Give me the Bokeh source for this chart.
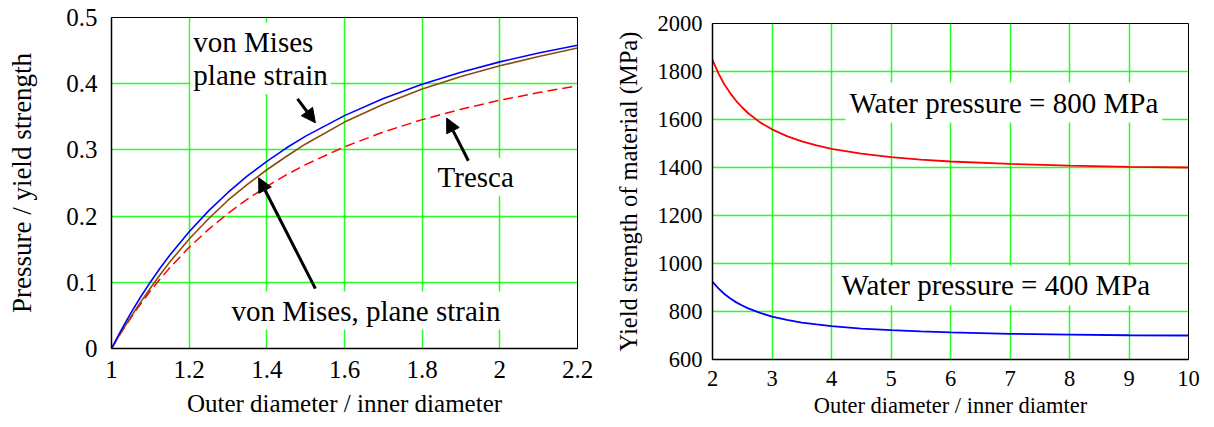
from bokeh.plotting import figure
from bokeh.layouts import row, column
from bokeh.models import Label, Arrow, NormalHead, FixedTicker, NumeralTickFormatter, Range1d
from bokeh.embed import file_html
from bokeh.resources import INLINE

# ---- left chart data ----
ratio_left = [1.0, 1.025, 1.05, 1.075, 1.1, 1.125, 1.15, 1.2, 1.25, 1.3, 1.35, 1.4, 1.45, 1.5,
              1.6, 1.7, 1.8, 1.9, 2.0, 2.1, 2.2]
von_mises_blue = [0, 0.0278, 0.0537, 0.0778, 0.1002, 0.1212, 0.1408, 0.1764, 0.2079, 0.2357,
                  0.2606, 0.2828, 0.3028, 0.3208, 0.3518, 0.3776, 0.3992, 0.4174, 0.4330,
                  0.4464, 0.4580]
von_mises_plane_strain = [0, 0.0250, 0.0480, 0.0700, 0.0910, 0.1115, 0.1305, 0.1655, 0.1960,
                          0.2240, 0.2480, 0.2700, 0.2900, 0.3090, 0.3420, 0.3690, 0.3920,
                          0.4110, 0.4270, 0.4410, 0.4540]
tresca = [0, 0.0241, 0.0465, 0.0673, 0.0868, 0.1049, 0.1220, 0.1528, 0.1800, 0.2041, 0.2257,
          0.2449, 0.2622, 0.2778, 0.3047, 0.3270, 0.3457, 0.3615, 0.3750, 0.3866, 0.3967]
left_xticks = [1.0, 1.2, 1.4, 1.6, 1.8, 2.0, 2.2]
left_yticks = [0, 0.1, 0.2, 0.3, 0.4, 0.5]

# ---- right chart data ----
ratio_right = [2, 2.1, 2.2, 2.3, 2.4, 2.5, 2.6, 2.8, 3, 3.25, 3.5, 3.75, 4, 4.5, 5, 5.5,
               6, 7, 8, 9, 10]
yield_800 = [1848, 1792, 1746, 1709, 1677, 1650, 1626, 1588, 1559, 1531, 1509, 1492, 1478,
             1458, 1443, 1433, 1425, 1415, 1408, 1403, 1400]
yield_400 = [924, 896, 873, 854, 838, 825, 813, 794, 779, 765, 754, 746, 739, 729, 722, 717,
             713, 707, 704, 701, 700]
right_xticks = [2, 3, 4, 5, 6, 7, 8, 9, 10]
right_yticks = [600, 800, 1000, 1200, 1400, 1600, 1800, 2000]

FONT = "Liberation Serif"
GRID = "#00ff00"


def style(p, tick_size, label_size):
    p.outline_line_color = "black"
    p.outline_line_width = 1
    p.background_fill_color = "white"
    p.border_fill_color = "white"
    for ax in (p.xaxis[0], p.yaxis[0]):
        ax.major_tick_out = 0
        ax.major_tick_in = 0
        ax.minor_tick_out = 0
        ax.minor_tick_in = 0
        ax.axis_line_color = "black"
        ax.axis_line_width = 1.5
        ax.major_label_text_font = FONT
        ax.major_label_text_font_size = tick_size
        ax.major_label_text_color = "black"
        ax.axis_label_text_font = FONT
        ax.axis_label_text_font_size = label_size
        ax.axis_label_text_font_style = "normal"
        ax.axis_label_text_color = "black"
    for g in (p.xgrid[0], p.ygrid[0]):
        g.grid_line_color = GRID
        g.grid_line_width = 1.5
        g.grid_line_alpha = 0.85


# ---------------- left figure ----------------
p1 = figure(width=600, height=427, output_backend="svg", toolbar_location=None,
            x_range=Range1d(1.0, 2.2), y_range=Range1d(0, 0.5),
            min_border_left=111, min_border_right=23, min_border_top=17, min_border_bottom=79,
            x_axis_label="Outer diameter / inner diameter",
            y_axis_label="Pressure / yield strength")
style(p1, "25px", "25px")
p1.yaxis[0].axis_label_text_font_size = "27px"
p1.xaxis[0].ticker = FixedTicker(ticks=left_xticks)
p1.yaxis[0].ticker = FixedTicker(ticks=left_yticks)
p1.xgrid[0].ticker = FixedTicker(ticks=left_xticks)
p1.ygrid[0].ticker = FixedTicker(ticks=left_yticks)
p1.xaxis[0].formatter = NumeralTickFormatter(format="0.[0]")
p1.yaxis[0].formatter = NumeralTickFormatter(format="0.[0]")
p1.xaxis[0].major_label_standoff = 12
p1.xaxis[0].axis_label_standoff = 9
p1.yaxis[0].major_label_standoff = 14
p1.yaxis[0].axis_label_standoff = 26

p1.line(ratio_left, tresca, line_color="#ff0000", line_width=1.5, line_dash="10 5")
p1.line(ratio_left, von_mises_plane_strain, line_color="#8b4a10", line_width=1.6)
p1.line(ratio_left, von_mises_blue, line_color="#0000ff", line_width=1.6)

lab_kw = dict(text_font=FONT, text_font_size="29px", text_color="black",
              background_fill_color="white", text_align="left", text_baseline="top")
p1.add_layout(Label(x=1.203, y=0.492, text="von Mises", padding=3, **lab_kw))
p1.add_layout(Label(x=1.203, y=0.442, text="plane strain", padding=3, **lab_kw))
p1.add_layout(Label(x=1.832, y=0.288, text="Tresca", padding=3, **lab_kw))
p1.add_layout(Label(x=1.301, y=0.086, text="von Mises, plane strain", padding=3, **lab_kw))

head = dict(size=14, fill_color="black", line_color="black")
p1.add_layout(Arrow(end=NormalHead(**head), x_start=1.479, y_start=0.377, x_end=1.525, y_end=0.341,
                    line_width=3, line_color="black"))
p1.add_layout(Arrow(end=NormalHead(**head), x_start=1.919, y_start=0.2836, x_end=1.863, y_end=0.348,
                    line_width=3, line_color="black"))
p1.add_layout(Arrow(end=NormalHead(**head), x_start=1.525, y_start=0.0905, x_end=1.379, y_end=0.258,
                    line_width=3, line_color="black"))

# ---------------- right figure ----------------
p2 = figure(width=614, height=427, output_backend="svg", toolbar_location=None,
            x_range=Range1d(2, 10), y_range=Range1d(600, 2000),
            min_border_left=112, min_border_right=26, min_border_top=23, min_border_bottom=68,
            x_axis_label="Outer diameter / inner diamter",
            y_axis_label="Yield strength of material (MPa)")
style(p2, "22.5px", "22.5px")
p2.yaxis[0].axis_label_text_font_size = "24.5px"
p2.xaxis[0].ticker = FixedTicker(ticks=right_xticks)
p2.yaxis[0].ticker = FixedTicker(ticks=right_yticks)
p2.xgrid[0].ticker = FixedTicker(ticks=right_xticks)
p2.ygrid[0].ticker = FixedTicker(ticks=right_yticks)
p2.xaxis[0].major_label_standoff = 11
p2.xaxis[0].axis_label_standoff = 4
p2.yaxis[0].major_label_standoff = 10
p2.yaxis[0].axis_label_standoff = 13

p2.line(ratio_right, yield_800, line_color="#ff0000", line_width=1.8)
p2.line(ratio_right, yield_400, line_color="#0000ff", line_width=1.8)

p2.add_layout(Label(x=4.235, y=1754, text="Water pressure = 800 MPa", padding=4, **lab_kw))
p2.add_layout(Label(x=4.10, y=992, text="Water pressure = 400 MPa", padding=4, **lab_kw))

layout = row(p1, column(p2))
open("out.html", "w").write(file_html(layout, INLINE))
